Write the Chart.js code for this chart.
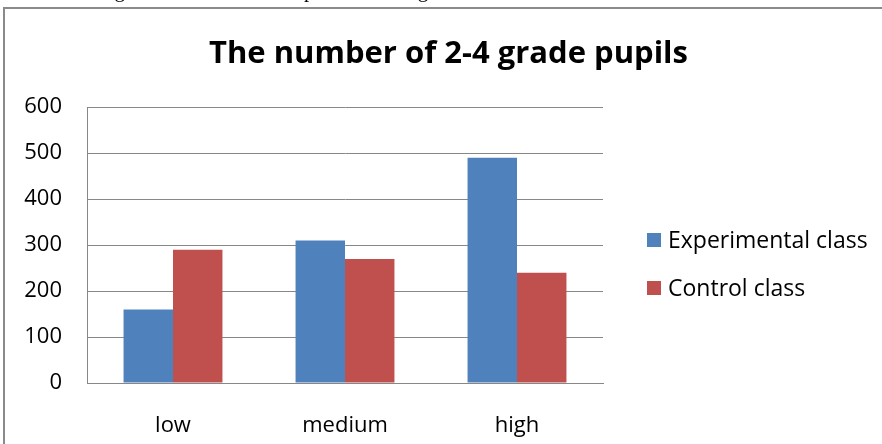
<!DOCTYPE html>
<html>
<head>
<meta charset="utf-8">
<title>The number of 2-4 grade pupils</title>
<script src="https://cdn.jsdelivr.net/npm/chart.js@4.4.1/dist/chart.umd.min.js"></script>
<style>
  body { margin: 0; background: #fff; }
  #wrap { position: relative; width: 882px; height: 444px; overflow: hidden; background: #fff; }
  #chart { position: absolute; left: 0; top: 0; }
  /* line of the surrounding document, only its descenders show */
  #docline { position: absolute; left: 16px; top: -20px; z-index: 2; font: 21px 'Liberation Serif'; line-height: 21px; white-space: nowrap; color: #000; }
</style>
</head>
<body>
<div id="wrap">
  <div id="docline">The teaching results of the school pretest in the grades</div>
  <canvas id="chart" width="882" height="444"></canvas>
</div>
<script>
const categories = ['low', 'medium', 'high'];
const experimentalClass = [160, 310, 490];
const controlClass = [290, 270, 240];
const seriesNames = ['Experimental class', 'Control class'];
const yMin = 0;
const yMax = 600;
const yStep = 100;

const FONT = '"Open Sans", "Noto Sans", sans-serif';

// frame of the pasted chart (only top and left edges are visible)
const framePlugin = {
  id: 'frame',
  beforeDraw(chart) {
    const ctx = chart.ctx;
    ctx.save();
    ctx.fillStyle = '#fff';
    ctx.fillRect(0, 0, chart.width, chart.height);
    ctx.strokeStyle = '#8a8a8a';
    ctx.lineWidth = 2;
    ctx.beginPath();
    ctx.moveTo(4, chart.height);
    ctx.lineTo(4, 8);
    ctx.lineTo(chart.width, 8);
    ctx.stroke();
    ctx.restore();
  }
};

// legend on the right, built from the datasets
const sideLegend = {
  id: 'sideLegend',
  afterDraw(chart) {
    const ctx = chart.ctx;
    ctx.save();
    ctx.font = '23px ' + FONT;
    ctx.textBaseline = 'middle';
    chart.data.datasets.forEach((ds, i) => {
      const y = 240 + i * 48;
      ctx.fillStyle = ds.backgroundColor;
      ctx.fillRect(647, y - 7, 14, 14);
      ctx.fillStyle = '#000';
      ctx.fillText(ds.label, 668, y + 1);
    });
    ctx.restore();
  }
};

function draw() {
  const ctx = document.getElementById('chart').getContext('2d');
  new Chart(ctx, {
    type: 'bar',
    data: {
      labels: categories,
      datasets: [
        {
          label: seriesNames[0],
          data: experimentalClass,
          backgroundColor: '#4f81bd'
        },
        {
          label: seriesNames[1],
          data: controlClass,
          backgroundColor: '#c0504d'
        }
      ]
    },
    options: {
      responsive: false,
      animation: false,
      devicePixelRatio: 1,
      layout: { padding: { left: 15, right: 0, top: 0, bottom: 0 } },
      datasets: {
        bar: { categoryPercentage: 0.575, barPercentage: 1.0 }
      },
      plugins: {
        legend: { display: false },
        tooltip: { enabled: false },
        title: {
          display: true,
          text: 'The number of 2-4 grade pupils',
          color: '#000',
          font: { family: FONT, size: 31, weight: 'bold', lineHeight: 1.2 },
          padding: { top: 36, bottom: 34 }
        }
      },
      scales: {
        x: {
          grid: { display: false },
          border: { display: true, color: '#878787', width: 1 },
          ticks: { color: '#000', font: { family: FONT, size: 22 }, padding: 22 },
          afterFit(scale) { scale.height = 61; }
        },
        y: {
          min: yMin,
          max: yMax,
          ticks: { stepSize: yStep, color: '#000', font: { family: FONT, size: 22 }, padding: 25 },
          grid: { color: '#878787', lineWidth: 1, drawTicks: false },
          border: { display: true, color: '#878787', width: 1 },
          afterFit(scale) { scale.width = 72; }
        },
        // empty space that holds the legend
        legendSpace: {
          type: 'linear',
          position: 'right',
          grid: { display: false },
          border: { display: false },
          ticks: { display: false },
          afterFit(scale) { scale.width = 279; }
        }
      }
    },
    plugins: [framePlugin, sideLegend]
  });
}

Promise.all([
  document.fonts.load('22px "Open Sans"'),
  document.fonts.load('bold 31px "Open Sans"'),
  document.fonts.load('21px "Liberation Serif"')
]).then(draw, draw);
</script>
</body>
</html>
